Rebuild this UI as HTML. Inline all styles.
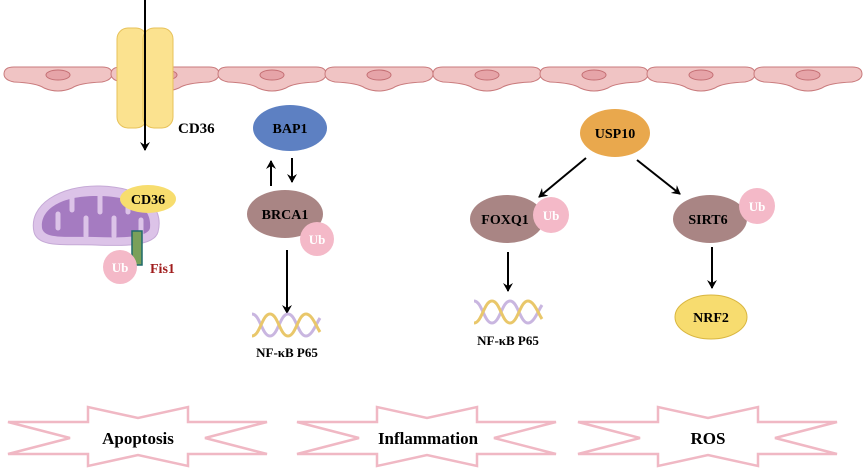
<!DOCTYPE html>
<html><head><meta charset="utf-8"><style>
html,body{margin:0;padding:0;background:#fff;}
svg{display:block;}
text{font-family:"Liberation Serif",serif;font-weight:bold;}
</style></head><body>
<svg width="865" height="469" viewBox="0 0 865 469" xmlns="http://www.w3.org/2000/svg">
<defs>
<marker id="ah" markerWidth="10" markerHeight="10" refX="8" refY="5" orient="auto" markerUnits="userSpaceOnUse">
<path d="M0,0 L9,5 L0,10 L3,5 Z" fill="#000"/>
</marker>
<g id="cell">
<path d="M0,8 Q0,1 10,1 L98,1 Q108,1 108,8 Q108,14 98,16 Q75,17 68,22 Q54,28 40,22 Q33,17 10,16 Q0,14 0,8 Z" fill="#f0c4c4" stroke="#c97a7c" stroke-width="1"/>
<ellipse cx="54" cy="9" rx="12" ry="5" fill="#e6a4a8" stroke="#c46f74" stroke-width="1"/>
</g>
<g id="dna">
<path d="M0,0 C8,0 10,22 18,22 C26,22 28,0 36,0 C44,0 46,22 54,22 C60,22 64,10 68,4" fill="none" stroke="#c9b6e0" stroke-width="3"/>
<path d="M0,22 C8,22 10,0 18,0 C26,0 28,22 36,22 C44,22 46,0 54,0 C60,0 64,12 68,18" fill="none" stroke="#e9c76a" stroke-width="3"/>
</g>
</defs>

<!-- membrane -->
<use href="#cell" x="4" y="66"/>
<use href="#cell" x="111" y="66"/>
<use href="#cell" x="218" y="66"/>
<use href="#cell" x="325" y="66"/>
<use href="#cell" x="433" y="66"/>
<use href="#cell" x="540" y="66"/>
<use href="#cell" x="647" y="66"/>
<use href="#cell" x="754" y="66"/>

<!-- CD36 channel -->
<rect x="117" y="28" width="30" height="100" rx="11" fill="#fbe28f" stroke="#e7c25a" stroke-width="1"/>
<rect x="143" y="28" width="30" height="100" rx="11" fill="#fbe28f" stroke="#e7c25a" stroke-width="1"/>
<line x1="145" y1="0" x2="145" y2="150" stroke="#000" stroke-width="2" marker-end="url(#ah)"/>
<text x="178" y="133" font-size="15">CD36</text>

<!-- Mitochondrion -->
<path d="M34,232 C28,205 60,185 100,186 C140,187 165,205 158,232 C154,247 120,246 95,245 C65,244 38,248 34,232 Z" fill="#dcc3e8" stroke="#c5a9d6"/>
<path d="M42,228 C40,210 60,195 100,196 C135,197 152,208 150,228 C148,238 120,238 95,237 C70,236 44,240 42,228 Z" fill="#a57bc1"/>
<g stroke="#dcc3e8" stroke-width="5" stroke-linecap="round">
<line x1="58" y1="228" x2="58" y2="214"/><line x1="72" y1="196" x2="72" y2="210"/>
<line x1="86" y1="236" x2="86" y2="218"/><line x1="100" y1="196" x2="100" y2="212"/>
<line x1="114" y1="236" x2="114" y2="218"/><line x1="128" y1="198" x2="128" y2="212"/>
<line x1="141" y1="234" x2="141" y2="220"/>
</g>
<ellipse cx="148" cy="199" rx="28" ry="14" fill="#f7dd6e"/>
<text x="148" y="204" font-size="14" text-anchor="middle">CD36</text>
<rect x="132" y="231" width="10" height="34" fill="#7aa05a" stroke="#1f6a6a" stroke-width="1.5"/>
<circle cx="120" cy="267" r="17" fill="#f4b9c8"/>
<text x="120" y="272" font-size="13" text-anchor="middle" fill="#fff">Ub</text>
<text x="150" y="273" font-size="14" fill="#a01c1c">Fis1</text>

<!-- BAP1 / BRCA1 -->
<ellipse cx="290" cy="128" rx="37" ry="23" fill="#5d80c2"/>
<text x="290" y="133" font-size="14" text-anchor="middle">BAP1</text>
<line x1="271" y1="186" x2="271" y2="161" stroke="#000" stroke-width="2" marker-end="url(#ah)"/>
<line x1="292" y1="158" x2="292" y2="182" stroke="#000" stroke-width="2" marker-end="url(#ah)"/>
<ellipse cx="285" cy="214" rx="38" ry="24" fill="#a98584"/>
<text x="285" y="219" font-size="14" text-anchor="middle">BRCA1</text>
<circle cx="317" cy="239" r="17" fill="#f4b9c8"/>
<text x="317" y="244" font-size="13" text-anchor="middle" fill="#fff">Ub</text>
<line x1="287" y1="250" x2="287" y2="313" stroke="#000" stroke-width="2" marker-end="url(#ah)"/>
<use href="#dna" x="252" y="314"/>
<text x="287" y="357" font-size="13" text-anchor="middle">NF-κB P65</text>

<!-- USP10 branch -->
<ellipse cx="615" cy="133" rx="35" ry="24" fill="#e9a84d"/>
<text x="615" y="138" font-size="14" text-anchor="middle">USP10</text>
<line x1="586" y1="158" x2="539" y2="197" stroke="#000" stroke-width="2" marker-end="url(#ah)"/>
<line x1="637" y1="160" x2="680" y2="194" stroke="#000" stroke-width="2" marker-end="url(#ah)"/>
<ellipse cx="507" cy="219" rx="37" ry="24" fill="#a98584"/>
<text x="505" y="224" font-size="14" text-anchor="middle">FOXQ1</text>
<circle cx="551" cy="215" r="18" fill="#f4b9c8"/>
<text x="551" y="220" font-size="13" text-anchor="middle" fill="#fff">Ub</text>
<ellipse cx="710" cy="219" rx="37" ry="24" fill="#a98584"/>
<text x="708" y="224" font-size="14" text-anchor="middle">SIRT6</text>
<circle cx="757" cy="206" r="18" fill="#f4b9c8"/>
<text x="757" y="211" font-size="13" text-anchor="middle" fill="#fff">Ub</text>
<line x1="508" y1="252" x2="508" y2="291" stroke="#000" stroke-width="2" marker-end="url(#ah)"/>
<use href="#dna" x="474" y="301"/>
<text x="508" y="345" font-size="13" text-anchor="middle">NF-κB P65</text>
<line x1="712" y1="247" x2="712" y2="288" stroke="#000" stroke-width="2" marker-end="url(#ah)"/>
<ellipse cx="711" cy="317" rx="36" ry="22" fill="#f7dc6f" stroke="#d9b640" stroke-width="1"/>
<text x="711" y="322" font-size="14" text-anchor="middle">NRF2</text>

<!-- Stars -->
<g id="star" fill="#fff" stroke="#f0b8c4" stroke-width="2.5" stroke-linejoin="miter">
<polygon points="8,422 88,422 88,407 138,418 188,407 188,422 267,422 205,438 267,454 188,454 188,466 138,455 88,466 88,454 8,454 70,438"/>
</g>
<use href="#star" x="289"/>
<use href="#star" x="570"/>
<text x="138" y="444" font-size="17" text-anchor="middle">Apoptosis</text>
<text x="428" y="444" font-size="17" text-anchor="middle">Inflammation</text>
<text x="708" y="444" font-size="17" text-anchor="middle">ROS</text>
</svg>
</body></html>
